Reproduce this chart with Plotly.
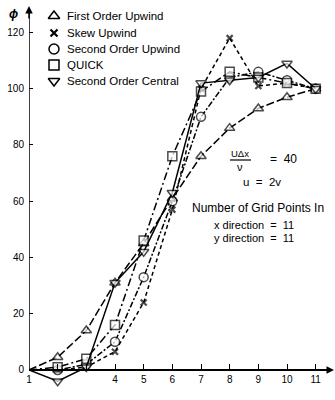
import plotly.graph_objects as go

# Grid point index along the centre line
grid_points = [1, 2, 3, 4, 5, 6, 7, 8, 9, 10, 11]

# phi profiles for each differencing scheme
first_order_upwind = [0, 4.5, 14, 31, 45, 61, 76, 86, 93, 97, 100]
skew_upwind = [0, 0, 1, 6.5, 24, 57, 100, 118, 101, 102, 100]
second_order_upwind = [0, 0, 2, 10, 33, 60, 90, 104, 106, 103, 100]
quick = [0, 1, 4, 16, 46, 76, 99, 106, 104, 102, 100]
second_order_central = [0, -4, 1, 31, 42, 63, 102, 103, 104, 109, 100]

scheme_names = ["First Order Upwind", "Skew Upwind", "Second Order Upwind",
                "QUICK", "Second Order Central"]
x_tick_values = [1, 2, 3, 4, 5, 6, 7, 8, 9, 10, 11]
x_tick_labels = ["1", "", "", "4", "5", "6", "7", "8", "9", "10", "11"]
y_tick_values = [0, 20, 40, 60, 80, 100, 120]

FONT = "Liberation Sans, Arial, sans-serif"
W, H = 335, 400
ML, MR, MT, MB = 29, 5, 10, 16
X_RANGE = [1, 11.5]
Y_RANGE = [-5, 128]


def px_to_paper(px, py):
    pw, ph = W - ML - MR, H - MT - MB
    return (px - ML) / pw, (H - MB - py) / ph


series = [first_order_upwind, skew_upwind, second_order_upwind, quick,
          second_order_central]
styles = [
    dict(symbol="triangle-up", size=9, dash="8px,3px", lw=1.5),
    dict(symbol="x-thin", size=6, dash="4px,3px", lw=2.2),
    dict(symbol="circle", size=9, dash="6px,2px,2px,2px", lw=1.5),
    dict(symbol="square", size=9, dash="8px,3px,2px,3px", lw=1.5),
    dict(symbol="triangle-down", size=9, dash="solid", lw=1.5),
]

fig = go.Figure()
for name, values, st in zip(scheme_names, series, styles):
    # the common inflow point at grid point 1 carries no symbol
    sizes = [0] + [st["size"]] * (len(values) - 1)
    fig.add_trace(go.Scatter(
        x=grid_points, y=values, name=name, mode="lines+markers",
        line=dict(color="black", width=1.5, dash=st["dash"]),
        marker=dict(symbol=st["symbol"], size=sizes, color="white",
                    line=dict(color="black", width=st["lw"])),
        cliponaxis=False, showlegend=False,
    ))

# Key: symbol column and labels in the upper-left corner
key_rows_px = [16, 33, 49, 65, 81]
key_sym_x, _ = px_to_paper(54, 0)
key_txt_x, _ = px_to_paper(65, 0)
for name, st, row in zip(scheme_names, styles, key_rows_px):
    _, ky = px_to_paper(0, row)
    fig.add_trace(go.Scatter(
        x=[key_sym_x], y=[ky], xaxis="x2", yaxis="y2", mode="markers",
        marker=dict(symbol=st["symbol"], size=st["size"] + 1, color="white",
                    line=dict(color="black", width=st["lw"])),
        cliponaxis=False, showlegend=False, hoverinfo="skip",
    ))
    fig.add_annotation(x=key_txt_x, y=ky, xref="paper", yref="paper",
                       text=name, showarrow=False, xanchor="left",
                       yanchor="middle", font=dict(size=11.5, family=FONT))


# Flow parameters
def note(text, px, py, anchor="center", size=12):
    nx, ny = px_to_paper(px, py)
    fig.add_annotation(x=nx, y=ny, xref="paper", yref="paper", text=text,
                       showarrow=False, xanchor=anchor, yanchor="middle",
                       font=dict(size=size, family=FONT))


note("UΔx", 240, 153, size=9.5)
note("ν", 240, 167, size=11)
note("=  40", 268, 159, anchor="left", size=12)
note("u  =  2v", 262, 182, size=11.5)
note("Number of Grid Points In", 258, 208)
note("x direction  =  11", 254, 225, size=11)
note("y direction  =  11", 254, 238, size=11)
bx0, by = px_to_paper(230, 160)
bx1, _ = px_to_paper(251, 160)
fig.add_shape(type="line", xref="paper", yref="paper", x0=bx0, x1=bx1,
              y0=by, y1=by, line=dict(color="black", width=1.2))

# phi label
note("<b><i>ϕ</i></b>", 13, 14, size=12)

# Vertical axis line rising from phi = 0, with arrowheads on both axes
fig.add_shape(type="line", xref="x", yref="y", x0=X_RANGE[0], x1=X_RANGE[0],
              y0=0, y1=Y_RANGE[1], line=dict(color="black", width=1.5))
zero_y = (0 - Y_RANGE[0]) / (Y_RANGE[1] - Y_RANGE[0])
ax_tip_x, ax_tip_y = px_to_paper(29, 6)
fig.add_annotation(x=0, y=ax_tip_y, xref="paper", yref="paper", text="",
                   showarrow=True, ax=0, ay=14, arrowhead=2, arrowsize=1,
                   arrowwidth=1.5, arrowcolor="black")
rx, _ = px_to_paper(334, 0)
fig.add_annotation(x=rx, y=zero_y, xref="paper", yref="paper", text="",
                   showarrow=True, ax=-14, ay=0, arrowhead=2, arrowsize=1,
                   arrowwidth=1.5, arrowcolor="black")

fig.update_layout(
    width=W, height=H,
    margin=dict(l=ML, r=MR, t=MT, b=MB),
    paper_bgcolor="white", plot_bgcolor="white",
    font=dict(family=FONT, color="black"),
    xaxis=dict(range=X_RANGE, anchor="free", position=zero_y,
               showline=True, linecolor="black", linewidth=1.5,
               ticks="inside", ticklen=5, tickwidth=1.2, tickcolor="black",
               tickvals=x_tick_values, ticktext=x_tick_labels,
               tickfont=dict(size=10, family=FONT), showgrid=False,
               zeroline=False),
    yaxis=dict(range=Y_RANGE, showline=False,
               ticks="inside", ticklen=4, tickwidth=1.2, tickcolor="black",
               tickvals=y_tick_values, tickfont=dict(size=10, family=FONT),
               ticklabelstandoff=4, showgrid=False, zeroline=False),
    xaxis2=dict(range=[0, 1], overlaying="x", visible=False),
    yaxis2=dict(range=[0, 1], overlaying="y", visible=False),
    showlegend=False,
)

fig.write_html("out.html")
